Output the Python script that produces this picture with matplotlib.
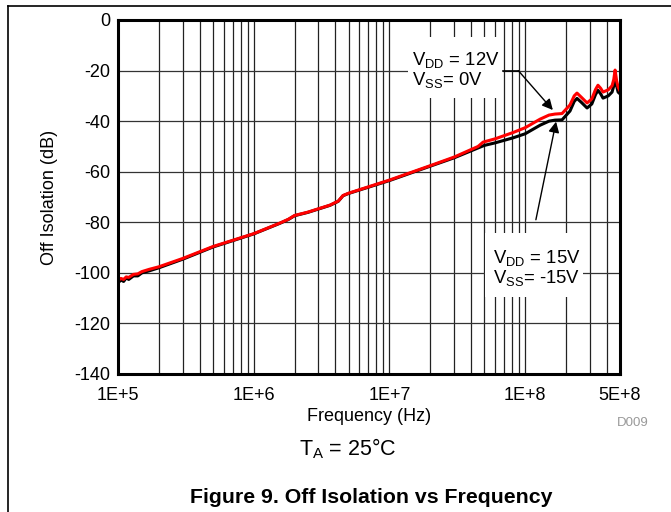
import matplotlib
matplotlib.use("Agg")
import matplotlib.pyplot as plt
from matplotlib.lines import Line2D
from matplotlib.patches import Rectangle
from matplotlib.ticker import FixedLocator, NullFormatter

plt.rcParams['font.family'] = ['Liberation Sans', 'DejaVu Sans']
plt.rcParams['mathtext.fontset'] = 'custom'
plt.rcParams['mathtext.rm'] = 'Liberation Sans'
plt.rcParams['mathtext.it'] = 'Liberation Sans'

# ---- data ----
freq_red = [1.0e5, 1.05e5, 1.1e5, 1.15e5, 1.2e5, 1.3e5, 1.4e5, 1.5e5, 1.7e5, 2.0e5,
            3.0e5, 5.0e5, 1.0e6, 1.56e6, 1.8e6, 2.0e6, 2.5e6, 3.65e6, 4.2e6, 4.55e6,
            5.0e6, 1.0e7, 2.0e7, 3.0e7, 4.5e7, 4.9e7, 6.0e7, 8.15e7, 1.0e8, 1.29e8,
            1.5e8, 1.66e8, 1.87e8, 2.14e8, 2.3e8, 2.41e8, 2.6e8, 2.86e8, 3.1e8, 3.3e8,
            3.44e8, 3.6e8, 3.75e8, 4.1e8, 4.37e8, 4.5e8, 4.6e8, 4.72e8, 4.84e8, 5.0e8]
red_db = [-103.0, -102.2, -102.6, -101.6, -101.8, -100.6, -100.4, -99.5, -98.6, -97.6,
          -94.3, -89.6, -84.5, -80.3, -78.8, -77.3, -76.0, -73.2, -71.6, -69.4,
          -68.5, -63.3, -57.6, -54.2, -50.0, -48.3, -47.0, -44.5, -42.6, -39.2,
          -37.6, -37.2, -37.0, -33.6, -30.0, -28.9, -30.6, -32.8, -31.2, -27.5,
          -25.8, -27.0, -28.5, -27.6, -26.0, -23.5, -19.8, -24.0, -26.5, -28.0]

freq_black = [1.0e5, 1.05e5, 1.1e5, 1.15e5, 1.2e5, 1.3e5, 1.4e5, 1.5e5, 1.7e5, 2.0e5,
              3.0e5, 5.0e5, 1.0e6, 1.56e6, 1.8e6, 2.0e6, 2.5e6, 3.65e6, 4.2e6, 4.55e6,
              5.0e6, 1.0e7, 2.0e7, 3.0e7, 4.5e7, 5.0e7, 6.0e7, 8.15e7, 1.0e8, 1.29e8,
              1.5e8, 1.66e8, 1.87e8, 2.14e8, 2.3e8, 2.41e8, 2.6e8, 2.86e8, 3.1e8, 3.3e8,
              3.44e8, 3.6e8, 3.75e8, 4.1e8, 4.37e8, 4.5e8, 4.6e8, 4.72e8, 4.84e8, 5.0e8]
black_db = [-104.0, -102.8, -103.4, -102.0, -102.6, -101.2, -101.2, -100.0, -99.2, -98.0,
            -94.6, -89.8, -84.6, -80.4, -78.9, -77.4, -76.1, -73.3, -71.7, -69.5,
            -68.6, -63.5, -57.8, -54.5, -50.6, -49.6, -48.6, -46.6, -45.0, -41.6,
            -40.0, -39.6, -39.5, -36.0, -32.2, -31.0, -32.6, -34.8, -33.2, -29.5,
            -27.8, -29.2, -30.9, -30.0, -28.5, -26.0, -22.5, -26.0, -28.5, -29.2]

xtick_vals = [1e5, 1e6, 1e7, 1e8, 5e8]
xtick_labels = ['1E+5', '1E+6', '1E+7', '1E+8', '5E+8']
ytick_vals = [0, -20, -40, -60, -80, -100, -120, -140]

W, H = 671, 512
fig = plt.figure(figsize=(W / 100, H / 100), dpi=100)
ax = fig.add_axes([118 / W, 1 - 374 / H, (620 - 118) / W, (374 - 20) / H])

ax.set_xscale('log')
ax.set_xlim(1e5, 5e8)
ax.set_ylim(-140, 0)

ax.plot(freq_black, black_db, color='black', lw=2.2, zorder=3, solid_joinstyle='round')
ax.plot(freq_red, red_db, color='#ff0000', lw=2.2, zorder=4, solid_joinstyle='round')

ax.xaxis.set_major_locator(FixedLocator(xtick_vals))
ax.set_xticklabels(xtick_labels)
minor = [m * 10 ** e for e in range(5, 9) for m in range(2, 10) if m * 10 ** e < 5e8]
ax.xaxis.set_minor_locator(FixedLocator(minor))
ax.xaxis.set_minor_formatter(NullFormatter())
ax.set_yticks(ytick_vals)
ax.set_yticklabels([str(v) for v in ytick_vals])

ax.grid(True, which='both', axis='x', color='#222222', lw=0.9)
ax.grid(True, which='major', axis='y', color='#333333', lw=0.9)
ax.set_axisbelow(True)
ax.tick_params(axis='both', which='both', length=0, labelsize=13, colors='black')
ax.tick_params(axis='x', pad=9)
ax.tick_params(axis='y', pad=5.5)
for s in ax.spines.values():
    s.set_linewidth(2.2)
    s.set_color('black')
    s.set_zorder(6)

ax.set_xlabel('Frequency (Hz)', fontsize=13)
ax.xaxis.set_label_coords(0.5, -0.097)
ax.set_ylabel('Off Isolation (dB)', fontsize=13)
ax.yaxis.set_label_coords((58 - 118) / 502, 0.5)

# annotation boxes (white patches hiding the grid)
ax.add_patch(Rectangle((0.578, 0.780), 0.767 - 0.578, 0.952 - 0.780, transform=ax.transAxes,
                       facecolor='white', edgecolor='none', zorder=2.5))
ax.add_patch(Rectangle((0.731, 0.2175), 0.926 - 0.731, 0.398 - 0.2175, transform=ax.transAxes,
                       facecolor='white', edgecolor='none', zorder=2.5))

ax.text(1.47e7, -19.7, 'V$_{\\mathrm{DD}}$ = 12V\nV$_{\\mathrm{SS}}$= 0V', fontsize=13.3,
        ha='left', va='center', linespacing=1.0, zorder=5)
ax.plot([6.9e7, 8.9e7], [-20, -20], color='black', lw=1.2, zorder=5)
ax.annotate('', xy=(1.6e8, -35.6), xytext=(8.9e7, -20),
            arrowprops=dict(arrowstyle='-|>', color='black', lw=1.0,
                            mutation_scale=16, shrinkA=0, shrinkB=0), zorder=5)

ax.text(5.75e7, -97.9, 'V$_{\\mathrm{DD}}$ = 15V\nV$_{\\mathrm{SS}}$= -15V', fontsize=13.3,
        ha='left', va='center', linespacing=1.0, zorder=5)
ax.annotate('', xy=(1.69e8, -40.2), xytext=(1.2e8, -79),
            arrowprops=dict(arrowstyle='-|>', color='black', lw=1.0,
                            mutation_scale=16, shrinkA=0, shrinkB=0), zorder=5)

# figure texts
def fx(x):
    return x / W

def fy(y):
    return 1 - y / H

fig.text(fx(633), fy(423), 'D009', fontsize=9.5, color='#999999', ha='center', va='center')
fig.text(fx(348), fy(455), 'T$_{\\mathrm{A}}$ = 25°C', fontsize=15.5, ha='center', va='baseline')
fig.text(fx(371.5), fy(503), 'Figure 9. Off Isolation vs Frequency', fontsize=15.3,
         fontweight='bold', ha='center', va='baseline')

# frame lines
fig.add_artist(Line2D([fx(8), 1], [fy(6), fy(6)], color='black', lw=1.2))
fig.add_artist(Line2D([fx(8), fx(8)], [fy(6), 0], color='black', lw=1.2))

fig.savefig('out.png', dpi=100)
